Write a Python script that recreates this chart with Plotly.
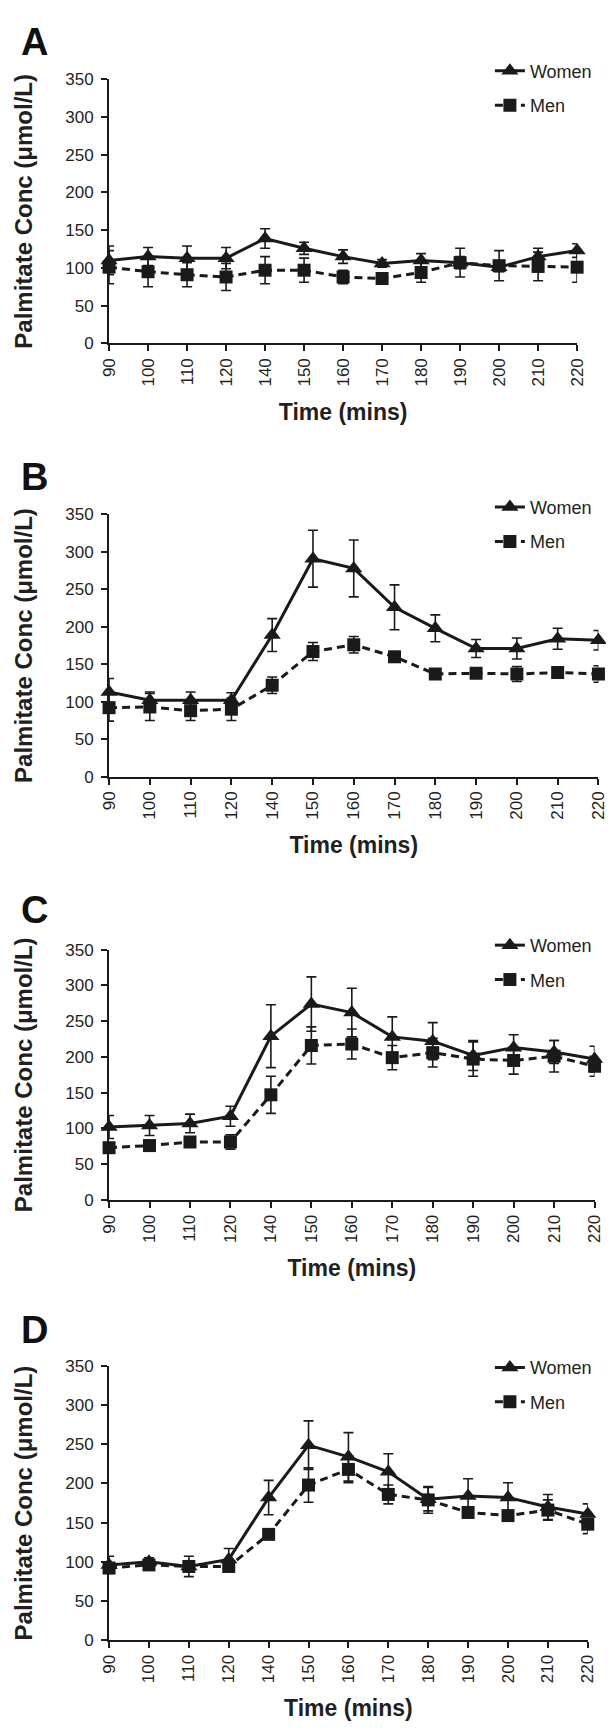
import plotly.graph_objects as go

# ---------------- data ----------------
times = ["90", "100", "110", "120", "140", "150", "160", "170", "180", "190", "200", "210", "220"]
y_tick_vals = [0, 50, 100, 150, 200, 250, 300, 350]
panel_letters = ["A", "B", "C", "D"]
series_names = ["Women", "Men"]

# Panel A
women_a = [110, 115, 113, 113, 139, 126, 115, 106, 110, 107, 101, 115, 123]
women_a_err = [19, 12, 16, 14, 13, 8, 9, 5, 9, 8, 6, 11, 9]
men_a = [101, 95, 91, 88, 97, 97, 88, 86, 94, 107, 103, 102, 101]
men_a_err = [22, 20, 16, 18, 18, 16, 9, 6, 13, 19, 20, 19, 20]

# Panel B
women_b = [113, 102, 102, 102, 189, 291, 278, 226, 198, 171, 171, 184, 182]
women_b_err = [18, 11, 11, 10, 22, 38, 38, 30, 18, 12, 14, 14, 13]
men_b = [92, 93, 88, 90, 122, 167, 176, 160, 137, 138, 137, 139, 137]
men_b_err = [18, 18, 13, 15, 11, 12, 11, 5, 4, 5, 10, 7, 11]

# Panel C
women_c = [102, 104, 107, 117, 229, 274, 262, 228, 222, 202, 213, 207, 197]
women_c_err = [16, 14, 13, 14, 44, 38, 34, 28, 26, 21, 18, 16, 18]
men_c = [73, 76, 81, 81, 147, 216, 218, 199, 206, 197, 195, 201, 187]
men_c_err = [5, 7, 6, 10, 26, 26, 21, 17, 20, 24, 19, 22, 14]

# Panel D
women_d = [96, 100, 94, 103, 182, 249, 234, 215, 180, 184, 182, 170, 161]
women_d_err = [11, 5, 5, 14, 22, 31, 31, 23, 15, 22, 19, 16, 13]
men_d = [92, 96, 94, 94, 135, 198, 218, 186, 179, 163, 159, 166, 148]
men_d_err = [6, 6, 13, 5, 5, 22, 17, 12, 17, 5, 5, 13, 12]

panels = [
    (women_a, women_a_err, men_a, men_a_err),
    (women_b, women_b_err, men_b, men_b_err),
    (women_c, women_c_err, men_c, men_c_err),
    (women_d, women_d_err, men_d, men_d_err),
]

# ---------------- layout geometry (pixels) ----------------
W, H = 614, 1736
x_left = 95
x_right = [578, 600, 596, 589]
y_top = [63, 503, 943, 1364]
y_bot = [330, 768, 1196, 1641]
letter_top = [2, 442, 880, 1304]
legend_top = [36, 477, 920, 1347]

INK = "#1a1a1a"
TXT = "#231f20"
FONT = "Arial, Liberation Sans, Helvetica, sans-serif"

fig = go.Figure()
layout = dict(
    width=W, height=H,
    margin=dict(l=0, r=0, t=0, b=0),
    paper_bgcolor="white", plot_bgcolor="white",
    font=dict(family=FONT, color=TXT, size=17),
    showlegend=True,
    annotations=[],
)

for i, (w, we, m, me) in enumerate(panels):
    sfx = "" if i == 0 else str(i + 1)
    xa, ya = "x" + sfx, "y" + sfx
    leg = "legend" + sfx
    fig.add_trace(go.Scatter(
        x=times, y=w, name=series_names[0], mode="lines+markers",
        xaxis=xa, yaxis=ya, legend=leg, legendgroup="w" + sfx,
        line=dict(color=INK, width=3),
        marker=dict(symbol="triangle-up", size=15, color=INK),
        error_y=dict(type="data", array=we, visible=True, thickness=1.6, width=5, color=INK),
        cliponaxis=False,
    ))
    fig.add_trace(go.Scatter(
        x=times, y=m, name=series_names[1], mode="lines+markers",
        xaxis=xa, yaxis=ya, legend=leg, legendgroup="m" + sfx,
        line=dict(color=INK, width=3, dash="8px,5px"),
        marker=dict(symbol="square", size=13, color=INK),
        error_y=dict(type="data", array=me, visible=True, thickness=1.6, width=5, color=INK),
        cliponaxis=False,
    ))

    layout["xaxis" + sfx] = dict(
        type="category", categoryorder="array", categoryarray=times,
        range=[0, len(times) - 1],
        domain=[x_left / W, x_right[i] / W], anchor=ya,
        showline=True, linewidth=2, linecolor=INK, mirror=False,
        ticks="outside", ticklen=6, tickwidth=2, tickcolor=INK,
        tickangle=-90, tickfont=dict(size=17, color=TXT),
        showgrid=False, zeroline=False, fixedrange=True,
        title=dict(text="<b>Time (mins)</b>", font=dict(size=23, color=TXT), standoff=18),
    )
    layout["yaxis" + sfx] = dict(
        range=[0, 350], tickvals=y_tick_vals,
        domain=[1 - y_bot[i] / H, 1 - y_top[i] / H], anchor=xa,
        showline=True, linewidth=2, linecolor=INK,
        ticks="outside", ticklen=6, tickwidth=2, tickcolor=INK,
        tickfont=dict(size=17, color=TXT), ticklabelstandoff=4,
        showgrid=False, zeroline=False, fixedrange=True,
        title=dict(text="<b>Palmitate Conc (μmol/L)</b>", font=dict(size=24, color=TXT), standoff=26),
    )
    layout[leg] = dict(
        x=488 / W, xanchor="left", y=1 - legend_top[i] / H, yanchor="top",
        font=dict(size=18, color=TXT), bgcolor="rgba(0,0,0,0)",
        tracegroupgap=8, itemwidth=30,
    )
    layout["annotations"].append(dict(
        text="<b>%s</b>" % panel_letters[i], xref="paper", yref="paper",
        x=2 / W, y=1 - letter_top[i] / H, xanchor="left", yanchor="top",
        showarrow=False, font=dict(size=38, color="#111111"),
    ))

fig.update_layout(**layout)
fig.write_html("out.html")
